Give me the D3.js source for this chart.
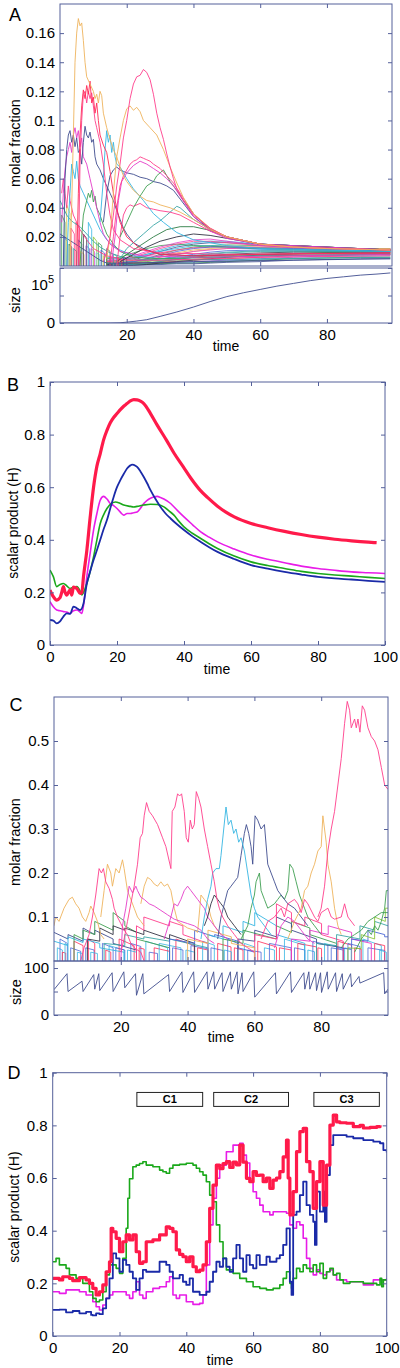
<!DOCTYPE html>
<html><head><meta charset="utf-8">
<script src="https://cdn.jsdelivr.net/npm/d3@7"></script>
<style>body{margin:0;background:#fff}svg{display:block}text{font-family:"Liberation Sans",Arial,Helvetica,sans-serif}</style>
</head><body><svg id="c" width="400" height="1368"></svg>
<script>
// ---------------- DATA ----------------
// Panel A : molar fractions (prominent species), [time, fraction]
const aOrange1 = [[3,0],[3.5,0.04],[4,0.09],[4.5,0.14],[5,0.16],[5.5,0.17],[6,0.165],[6.5,0.167],[7,0.155],[7.5,0.14],[8,0.13],[9,0.125],[10,0.12],[10.5,0.115],[11,0.118],[11.5,0.112],[12,0.12],[12.5,0.117],[13,0.105],[14,0.095],[15,0.087],[16,0.08],[17,0.075],[18,0.068],[19,0.062],[20,0.058],[22,0.052],[24,0.048],[26,0.045],[28,0.044],[30,0.042],[33,0.04],[36,0.037],[40,0.032],[45,0.025],[50,0.02],[60,0.015],[70,0.013],[80,0.012],[99,0.011]];
const aOrange2 = [[14,0.005],[15,0.02],[16,0.05],[17,0.075],[18,0.088],[19,0.1],[20,0.108],[21,0.11],[22,0.107],[23,0.109],[24,0.106],[25,0.1],[27,0.095],[29,0.09],[31,0.08],[33,0.068],[35,0.057],[37,0.047],[40,0.036],[45,0.026],[50,0.02],[60,0.015],[70,0.013],[80,0.012],[99,0.011]];
const aPinkBig = [[13,0.003],[14,0.01],[15,0.02],[16,0.035],[17,0.055],[18,0.07],[19,0.088],[20,0.1],[21,0.115],[22,0.125],[23,0.13],[24,0.131],[25,0.135],[26,0.133],[27,0.128],[28,0.118],[29,0.105],[30,0.095],[31,0.087],[32,0.077],[33,0.068],[34,0.06],[35,0.053],[37,0.045],[40,0.035],[45,0.026],[50,0.02],[60,0.015],[70,0.013],[80,0.012],[99,0.011]];
const aRed = [[5,0],[5.5,0.05],[6,0.09],[6.5,0.11],[7,0.121],[7.5,0.115],[8,0.124],[8.5,0.118],[9,0.127],[9.5,0.112],[10,0.116],[10.5,0.105],[11,0.112],[11.5,0.1],[12,0.09],[13,0.083],[14,0.078],[15,0.065],[16,0.05],[17,0.04],[18,0.03],[20,0.02],[24,0.012],[30,0.008],[40,0.007],[60,0.008],[99,0.009]];
const aPink0 = [[5.5,0],[6,0.07],[6.5,0.1],[7,0.118],[7.5,0.12],[8,0.112],[8.5,0.12],[9,0.115],[9.5,0.119],[10,0.11],[10.5,0.1],[11,0.095],[11.5,0.09],[12,0.085],[13,0.07],[14,0.05],[15,0.035],[16,0.025],[18,0.018],[22,0.012],[30,0.009],[50,0.008],[99,0.009]];
const aNavy1 = [[1,0],[1.5,0.06],[2,0.08],[2.5,0.09],[3,0.093],[3.5,0.085],[4,0.09],[4.5,0.082],[5,0.088],[5.5,0.078],[6,0.08],[6.5,0.07],[7,0.085],[7.5,0.096],[8,0.09],[8.5,0.088],[9,0.092],[9.5,0.085],[10,0.087],[10.5,0.075],[11,0.07],[12,0.066],[13,0.06],[14,0.055],[15,0.05],[16,0.045],[17,0.038],[18,0.032],[19,0.026],[20,0.022],[22,0.016],[25,0.012],[30,0.008],[40,0.007],[60,0.008],[99,0.009]];
const aMagentaEarly = [[0.5,0.03],[1,0.05],[1.5,0.066],[2,0.075],[2.5,0.08],[3,0.085],[3.5,0.078],[4,0.09],[4.5,0.095],[5,0.088],[5.5,0.093],[6,0.082],[6.5,0.088],[7,0.075],[8,0.07],[9,0.06],[10,0.05],[11,0.04],[12,0.03],[13,0.022],[15,0.015],[18,0.01],[25,0.007],[40,0.006],[99,0.008]];
const aPinkEarly = [[0.5,0.05],[1,0.06],[1.5,0.05],[2,0.04],[2.5,0.055],[3,0.045],[4,0.035],[5,0.03],[6,0.025],[8,0.018],[10,0.012],[14,0.007],[20,0.004],[30,0.004],[60,0.006],[99,0.007]];
const aCyan1 = [[12,0.03],[13,0.06],[13.5,0.08],[14,0.093],[14.5,0.085],[15,0.09],[15.5,0.078],[16,0.085],[16.5,0.075],[17,0.07],[18,0.068],[19,0.064],[20,0.06],[22,0.053],[25,0.045],[28,0.036],[31,0.03],[35,0.023],[40,0.018],[50,0.014],[60,0.012],[80,0.011],[99,0.01]];
const aPink2 = [[15,0.003],[16,0.02],[17,0.04],[18,0.055],[19,0.062],[20,0.066],[21,0.07],[22,0.072],[23,0.073],[24,0.075],[25,0.074],[26,0.073],[27,0.072],[28,0.07],[30,0.067],[32,0.062],[34,0.057],[36,0.05],[38,0.043],[40,0.036],[45,0.025],[50,0.02],[60,0.015],[70,0.013],[99,0.011]];
const aMagenta2 = [[15.5,0.003],[16.5,0.02],[17.5,0.045],[18.5,0.058],[20,0.064],[22,0.069],[24,0.072],[26,0.07],[28,0.067],[30,0.064],[32,0.06],[34,0.055],[36,0.048],[38,0.041],[40,0.034],[45,0.024],[50,0.019],[60,0.015],[99,0.011]];
const aNavy2 = [[13,0.03],[14,0.05],[15,0.062],[16,0.066],[17,0.068],[18,0.066],[19,0.065],[20,0.064],[22,0.063],[24,0.061],[26,0.06],[28,0.058],[30,0.057],[32,0.055],[34,0.052],[36,0.046],[38,0.04],[40,0.034],[45,0.025],[50,0.02],[60,0.015],[99,0.011]];
const aGreen1 = [[18,0.02],[20,0.03],[22,0.04],[24,0.048],[26,0.055],[28,0.058],[29,0.062],[30,0.064],[31,0.066],[32,0.062],[33,0.058],[35,0.052],[37,0.045],[40,0.036],[45,0.025],[50,0.02],[60,0.015],[99,0.011]];
const aGreenEarly = [[6,0],[6.5,0.02],[7,0.035],[7.5,0.04],[8,0.045],[8.5,0.05],[9,0.047],[9.5,0.052],[10,0.044],[10.5,0.048],[11,0.04],[12,0.035],[13,0.028],[14,0.022],[16,0.015],[18,0.01],[22,0.006],[30,0.005],[60,0.007],[99,0.008]];
const aPinkMid = [[17,0],[18,0.02],[19,0.035],[20,0.04],[21,0.042],[22,0.041],[24,0.043],[26,0.04],[28,0.039],[30,0.038],[33,0.037],[36,0.035],[40,0.03],[45,0.024],[50,0.02],[60,0.015],[99,0.011]];
const aTeal1 = [[18,0.005],[20,0.012],[22,0.016],[25,0.022],[28,0.028],[30,0.031],[32,0.035],[34,0.039],[35,0.041],[36,0.04],[38,0.036],[40,0.032],[45,0.025],[50,0.02],[60,0.015],[99,0.011]];
const aGreen2 = [[17,0.003],[20,0.008],[24,0.014],[28,0.02],[32,0.025],[36,0.027],[40,0.027],[44,0.025],[50,0.02],[60,0.015],[99,0.011]];
const aNavy3 = [[18,0.003],[22,0.008],[26,0.013],[30,0.017],[35,0.02],[40,0.022],[45,0.021],[50,0.019],[60,0.015],[99,0.011]];
const aCyan2 = [[2,0],[2.5,0.03],[3,0.05],[3.5,0.07],[4,0.065],[4.5,0.06],[5,0.072],[5.5,0.06],[6,0.055],[7,0.05],[8,0.045],[9,0.04],[10,0.035],[12,0.025],[14,0.018],[17,0.012],[22,0.007],[30,0.005],[60,0.007],[99,0.008]];
const aTealEarly = [[0,0.045],[1,0.04],[2,0.035],[3,0.032],[4,0.03],[6,0.027],[8,0.022],[10,0.017],[12,0.013],[15,0.009],[20,0.005],[30,0.004],[99,0.006]];
const aNavyDecay = [[0,0.022],[2,0.019],[4,0.016],[6,0.013],[8,0.01],[10,0.007],[12,0.004],[14,0.002],[20,0.002],[40,0.003],[99,0.005]];
// Panel A : background bundle, values in thousandths at common times
const aBundleTimes = [14,18,22,26,30,35,40,45,50,60,70,80,90,99];
const aBundleMilli = [
 [1,2,4,7,10,13,15,16,16,15,13,12,12,12],
 [2,3,5,8,11,14,16,17,17,15,13,12,11.5,11.5],
 [1,1.5,3,5,8,11,13,14,14.5,14,13,12,11,11],
 [3,4,5,7,9,11,12.5,13,13.5,13,12,11.5,11,11],
 [0.5,1,2,4,6,8,10,11.5,12,12.5,12,11.5,11,10.5],
 [2,2,3,4,6,8,10,11,12,12,11.5,11,10.5,10.5],
 [1,1,2,3,5,6.5,8,9.5,10.5,11,11,10.5,10.5,10],
 [4,3,3,4,5,6,7,8,9,10,10,10,10,10],
 [0.5,1,1,2,3,4.5,6,7,8,9,9.5,9.5,9.5,9.5],
 [2,2,2.5,3,4,5,6,6.5,7,8,8.5,9,9,9],
 [1,1,1.5,2,3,3.5,4.5,5.5,6,7,8,8.5,8.5,8.5],
 [3,2.5,2,2,2.5,3,4,4.5,5,6,7,7.5,8,8],
 [0.5,0.5,1,1.5,2,2.5,3,3.5,4,5,6,7,7.5,7.5],
 [1,1,1,1,1.5,2,2.5,3,3.5,4.5,5.5,6,6.5,7],
 [2,1.5,1.5,1.5,1.5,2,2,2.5,3,4,5,5.5,6,6],
 [0.5,0.5,0.5,1,1,1.5,1.5,2,2.5,3,4,4.5,5,5],
 [6,5,6,8,10,12,14,14,13,11.5,11,10.5,10.5,10.5],
 [5,6,9,12,14,15,14,13.5,13,12,11.5,11,11,11],
 [3,4,6,9,12,15,17,17,16,14,12.5,12,11.5,11.5],
 [2,3,4,5,7,9,11,12,13,13,12.5,12,12,12],
 [4,5,7,10,13,16,18,18.5,17,14,12.5,12,11.5,11],
 [1,2,3,5,7,10,12,13,13,12.5,12,11.5,11,10.5],
 [2,1,1,2,3,5,7,8.5,9.5,10.5,10.5,10,10,10],
 [1,0.5,0.5,1,2,3,4,5,6,7.5,8.5,9,9,9]
];
// Panel A : short-lived species at start [t, height, tEnd, heightEnd]
const aSpikes = [[0.5,0.035,1.5,0.03],[1.2,0.02,2.2,0.017],[2,0.042,3,0.036],[2.7,0.015,3.5,0.013],[3.3,0.026,4.3,0.022],[4,0.012,5,0.01],[4.8,0.03,5.8,0.026],[5.5,0.018,6.5,0.015],[6.2,0.01,7.2,0.008],[7,0.022,8,0.019],[7.8,0.014,8.8,0.012],[8.5,0.03,9.5,0.025],[9.3,0.012,10.3,0.01],[10,0.02,11,0.017],[10.8,0.009,11.8,0.008],[11.5,0.016,12.5,0.014],[12.3,0.011,13.3,0.009],[13,0.007,14,0.006],[14,0.012,15,0.01],[15,0.006,16,0.005],[16,0.008,17,0.007],[17.5,0.005,18.5,0.004],[19,0.006,20,0.005]];
// Panel A : population size
const aSize = [[0,0],[15,0],[18,400],[20,1500],[23,3500],[26,6000],[30,12000],[35,20000],[40,29000],[45,39000],[50,48000],[55,55000],[60,61000],[65,67000],[70,72000],[75,77000],[80,81000],[85,84000],[90,87000],[95,89000],[99,91000]];
const aXTicks = [20,40,60,80];
const aYTicks = [0.02,0.04,0.06,0.08,0.1,0.12,0.14,0.16];
const aSizeTicks = [0,50000,100000];

// Panel B : scalar products
const bRed = [[0,0.209],[0.5,0.195],[1,0.184],[2,0.171],[3,0.18],[3.5,0.2],[4,0.222],[4.5,0.2],[5,0.19],[6,0.21],[6.5,0.19],[7,0.22],[8,0.215],[9,0.196],[9.5,0.2],[10,0.26],[11,0.36],[12,0.487],[13,0.6],[14,0.68],[15,0.728],[16,0.78],[17,0.816],[18,0.845],[19,0.865],[20,0.88],[21,0.895],[22,0.908],[23,0.918],[24,0.928],[25,0.933],[26,0.932],[27,0.927],[28,0.918],[30,0.88],[32,0.836],[34.8,0.778],[37,0.73],[39.8,0.677],[42,0.635],[44.8,0.589],[47,0.561],[50,0.528],[52.5,0.505],[55,0.487],[60,0.462],[65,0.446],[70,0.432],[75,0.42],[80,0.41],[85,0.402],[90,0.396],[95,0.391],[97.5,0.389]];
const bBlue = [[0,0.095],[1,0.093],[2,0.082],[3,0.09],[4,0.108],[5,0.12],[6,0.118],[7,0.146],[8,0.14],[9,0.133],[10,0.158],[11,0.234],[12,0.28],[13,0.323],[14,0.36],[15,0.4],[16,0.44],[17,0.475],[18,0.52],[19,0.563],[20,0.6],[21,0.627],[22,0.65],[23,0.671],[24,0.683],[24.5,0.686],[25,0.685],[26,0.677],[27,0.66],[28,0.639],[29,0.615],[30,0.589],[31.5,0.555],[33,0.525],[34.5,0.5],[36,0.481],[38,0.458],[40,0.437],[42.5,0.413],[45,0.392],[47.5,0.372],[50,0.354],[55,0.327],[60,0.304],[65,0.29],[70,0.278],[75,0.268],[80,0.259],[85,0.253],[90,0.249],[95,0.244],[100,0.24]];
const bGreen = [[0,0.285],[1,0.26],[2,0.222],[3,0.23],[4,0.234],[5,0.225],[6,0.215],[7,0.22],[8,0.222],[9,0.205],[9.5,0.19],[10,0.2],[11,0.234],[12,0.28],[13,0.335],[14,0.4],[15,0.462],[16,0.495],[17,0.519],[18,0.535],[19.5,0.544],[21,0.538],[22,0.532],[24,0.527],[25,0.525],[26,0.527],[28,0.532],[30,0.535],[32,0.534],[34,0.525],[35.5,0.51],[37,0.494],[38.5,0.47],[40,0.449],[42.5,0.425],[45,0.405],[47.5,0.385],[50,0.367],[55,0.338],[60,0.316],[65,0.302],[70,0.291],[75,0.28],[80,0.272],[85,0.266],[90,0.262],[95,0.257],[100,0.253]];
const bMagenta = [[0,0.165],[1,0.145],[2,0.133],[3,0.13],[4,0.127],[5,0.125],[6,0.12],[7,0.13],[8,0.133],[9,0.125],[9.5,0.12],[10,0.15],[11,0.26],[12,0.35],[13,0.437],[14,0.5],[15,0.551],[16,0.565],[17,0.555],[18,0.538],[19,0.53],[20,0.519],[21,0.505],[22,0.494],[23,0.5],[24,0.5],[25,0.503],[26,0.506],[27,0.52],[28,0.538],[29,0.55],[30,0.558],[31,0.563],[32,0.565],[33,0.561],[34,0.555],[36,0.538],[38,0.512],[40,0.487],[42.5,0.458],[45,0.43],[47.5,0.41],[50,0.392],[55,0.365],[60,0.342],[65,0.326],[70,0.313],[75,0.3],[80,0.291],[85,0.284],[90,0.278],[95,0.275],[100,0.272]];
const bXTicks = [0,20,40,60,80,100];
const bYTicks = [0,0.2,0.4,0.6,0.8,1];

// Panel C : molar fractions of major species
const cPink1 = [[8,0],[9,0.03],[10.5,0.06],[11.5,0.1],[12.5,0.15],[13.5,0.21],[14.2,0.2],[14.8,0.21],[15.5,0.18],[16.5,0.165],[17.5,0.14],[18,0.12],[19,0.1],[20,0.085],[21,0.07],[22,0.06],[23,0.04],[24,0.03],[26,0.02],[27,0]];
const cPink2 = [[20,0.02],[21,0.05],[22,0.09],[23,0.13],[24,0.17],[25,0.22],[25.8,0.28],[26.5,0.29],[27,0.33],[27.7,0.36],[28.5,0.34],[29.5,0.33],[31,0.31],[32.5,0.28],[33.5,0.26],[35,0.21],[35.4,0.34],[36.2,0.35],[37,0.38],[37.6,0.375],[38.2,0.38],[39,0.34],[39.6,0.28],[40.2,0.27],[40.8,0.32],[41.4,0.3],[42,0.31],[42.6,0.385],[43.3,0.37],[44,0.35],[45,0.3],[46,0.26],[47,0.22],[48,0.18],[48.8,0.14],[49.5,0.12],[50.5,0.1],[52,0.08],[54,0.06],[56,0.04],[58,0.03],[60,0.02]];
const cMagenta1 = [[20,0],[20.5,0.08],[21.5,0.12],[22.5,0.17],[23.5,0.155],[24.5,0.17],[25,0.16],[26,0.145],[27,0.14],[28.5,0.13],[30,0.125],[32,0.115],[34,0.105],[36,0.095],[38,0.09],[40,0.085],[42,0.08],[44,0.07],[46,0.05],[48,0.04]];
const cMagenta2 = [[33,0.05],[35,0.1],[36,0.13],[37,0.125],[38,0.14],[39,0.16],[40,0.17],[41,0.16],[42,0.15],[43,0.14],[44,0.13],[45,0.12],[46,0.1],[48,0.08],[50,0.06],[52,0.05]];
const cOrange1 = [[0,0.08],[0.5,0.1],[1.5,0.09],[3,0.12],[4.5,0.14],[5.5,0.145],[6.5,0.13],[7.5,0.12],[8.5,0.1],[9.5,0.09],[10.5,0.11],[11,0.125],[12,0.11],[13,0.09],[14,0.06],[15,0.05]];
const cOrange2 = [[14,0.1],[15,0.16],[16,0.22],[17,0.2],[17.5,0.17],[18.5,0.21],[19.5,0.2],[20.5,0.23],[21,0.21],[22,0.16],[23,0.14],[24,0.12],[25,0.1],[26,0.09],[27,0.08]];
const cOrange3 = [[26,0.13],[27,0.17],[28,0.19],[29,0.185],[30,0.175],[31,0.17],[32,0.18],[33,0.17],[34,0.175],[35,0.16],[36,0.12],[37,0.09],[38,0.085],[40,0.075],[42,0.07],[43,0.065],[44,0.15],[45,0.14],[46,0.13],[47,0.1],[48,0.08],[50,0.06]];
const cCyan1 = [[44,0.05],[45,0.1],[46,0.14],[47,0.17],[47.5,0.2],[48.5,0.21],[49.5,0.21],[50,0.24],[51.5,0.35],[52.2,0.31],[53,0.32],[53.8,0.29],[54.5,0.3],[55.3,0.27],[56,0.28],[57,0.25],[58,0.2],[59,0.15],[60,0.12],[61,0.1],[63,0.08],[65,0.06]];
const cNavy1 = [[49,0.05],[50,0.1],[51,0.13],[52,0.16],[53,0.17],[54,0.18],[55,0.19],[56,0.24],[57,0.29],[57.6,0.31],[58.3,0.29],[59,0.26],[59.5,0.22],[60.2,0.33],[61,0.32],[62,0.3],[63,0.31],[64,0.22],[65,0.2],[66,0.18],[67,0.16],[68,0.15],[69,0.14],[70,0.13],[72,0.12],[74,0.1],[76,0.08]];
const cNavy2 = [[45,0.08],[46,0.1],[47,0.13],[48,0.15],[49,0.14],[50,0.13],[51,0.12],[52,0.1],[54,0.08],[56,0.06]];
const cGreen1 = [[56,0.05],[58,0.08],[59,0.12],[60,0.15],[60.5,0.18],[61.5,0.2],[62,0.16],[63,0.14],[64,0.12],[66,0.13],[67,0.14],[68,0.15],[69,0.14],[70,0.16],[70.6,0.22],[71.5,0.21],[72.5,0.18],[73.5,0.15],[75,0.12],[76,0.1],[78,0.08],[80,0.06]];
const cOrange4 = [[70,0.05],[72,0.09],[74,0.12],[75,0.16],[76,0.17],[77,0.2],[78,0.22],[79,0.25],[80,0.26],[80.5,0.33],[81.5,0.27],[82,0.22],[83,0.18],[84,0.12],[85,0.08],[86,0.06]];
const cPink3 = [[79,0.1],[80,0.12],[81,0.17],[82,0.25],[83,0.3],[84,0.34],[85,0.4],[86,0.46],[87,0.54],[87.8,0.59],[88.5,0.57],[89,0.53],[90,0.55],[90.5,0.53],[91,0.55],[91.6,0.52],[92.3,0.58],[93,0.57],[94,0.53],[95,0.51],[96,0.5],[97,0.48],[98,0.44],[99,0.4],[100,0.39]];
const cPink4 = [[62,0.05],[64,0.09],[66,0.1],[68,0.12],[69,0.1],[70,0.13],[72,0.14],[73,0.13],[74,0.11],[75,0.14],[76,0.13],[78,0.1],[79,0.09],[80,0.11],[82,0.12],[83,0.1],[84,0.095],[86,0.1],[87,0.13],[88,0.1],[90,0.08]];
const cMagenta3 = [[66,0.03],[68,0.08],[70,0.1],[72,0.09],[74,0.07],[76,0.05],[78,0.04]];
const cGreen2 = [[90,0.02],[92,0.05],[94,0.07],[95,0.06],[96,0.08],[97,0.07],[98,0.09],[99,0.12],[99.5,0.16],[100,0.16]];
const cGreen3 = [[86,0.03],[88,0.05],[90,0.06],[92,0.07],[94,0.09],[96,0.1],[98,0.11],[100,0.11]];
// Panel C : minor species (saw-tooth)
const cSaw1 = [[0,0.065],[4.2,0.05],[4.2,0.06],[8.7,0.045],[8.7,0.075],[12.2,0.06],[12.2,0.07],[17.7,0.05],[17.7,0.04],[24.7,0.025],[24.7,0]];
const cSaw2 = [[0,0.045],[4.2,0.035],[4.2,0.055],[8.7,0.042],[8.7,0.05],[13.7,0.04],[13.7,0.03],[21,0.02],[21,0]];
const cSaw3 = [[6,0],[6,0.06],[8.7,0.05],[8.7,0.07],[12.2,0.06],[12.2,0.09],[17.7,0.07],[17.7,0.11],[21.2,0.09],[21.2,0.08],[24.7,0.065],[24.7,0.05],[34.6,0.03],[34.6,0]];
const cSaw4 = [[10,0],[10,0.05],[13.7,0.045],[13.7,0.075],[17.7,0.06],[17.7,0.08],[21.2,0.07],[21.2,0.075],[26.9,0.06],[26.9,0.07],[34.6,0.05],[34.6,0.06],[42.1,0.04],[42.1,0]];
const cSaw5 = [[15,0],[15,0.04],[21.2,0.035],[21.2,0.06],[26.9,0.05],[26.9,0.055],[34.6,0.045],[34.6,0.05],[46.1,0.03],[46.1,0]];
const cSaw6 = [[24.7,0],[24.7,0.08],[26.9,0.07],[26.9,0.1],[34.6,0.08],[34.6,0.09],[38.6,0.08],[38.6,0.06],[46.1,0.04],[46.1,0]];
const cSaw7 = [[34.6,0],[34.6,0.05],[42.1,0.04],[42.1,0.07],[48.1,0.055],[48.1,0.06],[55.1,0.045],[55.1,0.03],[60.1,0.02],[60.1,0]];
const cSaw8 = [[46.1,0],[46.1,0.06],[50.6,0.05],[50.6,0.08],[56.6,0.065],[56.6,0.09],[60.1,0.08],[60.1,0.11],[66.6,0.08],[66.6,0.06],[75.1,0.04],[75.1,0]];
const cSaw9 = [[50.6,0],[50.6,0.05],[56.6,0.04],[56.6,0.07],[66.6,0.05],[66.6,0.08],[71.1,0.065],[71.1,0.09],[76.6,0.075],[76.6,0.06],[84.6,0.04],[84.6,0]];
const cSaw10 = [[55.1,0],[55.1,0.05],[60.1,0.045],[60.1,0.07],[66.6,0.055],[66.6,0.1],[71.1,0.085],[71.1,0.07],[78.6,0.05],[78.6,0.04],[86.6,0.03],[86.6,0]];
const cSaw11 = [[60.1,0],[60.1,0.06],[66.6,0.05],[66.6,0.13],[71.1,0.11],[71.1,0.09],[75.1,0.08],[75.1,0.1],[80.1,0.085],[80.1,0.06],[86.6,0.045],[86.6,0]];
const cSaw12 = [[71.1,0],[71.1,0.05],[76.6,0.045],[76.6,0.07],[82.1,0.06],[82.1,0.08],[89.1,0.065],[89.1,0.05],[95,0.04],[95,0]];
const cSaw13 = [[78.6,0],[78.6,0.04],[84.6,0.035],[84.6,0.06],[91.6,0.05],[91.6,0.08],[96,0.07],[96,0.09],[100,0.08]];
const cSaw14 = [[84.6,0],[84.6,0.03],[89.1,0.027],[89.1,0.05],[94,0.045],[94,0.07],[99,0.06],[99,0.055],[100,0.055]];
const cSaw15 = [[40,0],[40,0.05],[46.1,0.04],[46.1,0.07],[53.1,0.055],[53.1,0.04],[60,0.03],[60,0]];
const cSaw16 = [[88,0],[88,0.03],[92,0.028],[92,0.06],[96,0.05],[96,0.1],[99.2,0.09],[99.2,0.12],[100,0.12]];
// Panel C : short-lived species [t, height, tEnd, heightEnd]
const cSpikes = [[1,0.03,2.5,0.025],[1.8,0.05,4,0.04],[2.5,0.02,3.5,0.018],[3.3,0.04,4.2,0.035],[5,0.03,8,0.022],[6,0.045,8.7,0.035],[7,0.02,8.5,0.017],[9.5,0.03,12,0.025],[10.3,0.05,12.2,0.04],[11,0.02,13,0.017],[14.5,0.04,17.7,0.03],[15.5,0.025,17,0.02],[16.5,0.035,21,0.025],[18.5,0.03,21.2,0.025],[19.5,0.05,24,0.035],[22,0.025,24.7,0.02],[23,0.04,26,0.033],[25.5,0.03,27,0.027],[27.5,0.045,34,0.03],[28.5,0.02,31,0.017],[30,0.03,34.6,0.022],[31.5,0.04,38,0.03],[35.5,0.03,38.6,0.025],[36.5,0.05,42,0.035],[39.5,0.025,42.1,0.02],[41,0.035,46,0.028],[43,0.03,46.1,0.025],[44.5,0.045,48,0.036],[47,0.03,50.6,0.024],[49,0.04,53,0.032],[51,0.025,53.1,0.021],[52,0.05,55,0.04],[54,0.03,56.6,0.025],[57,0.04,60.1,0.032],[58,0.025,62,0.02],[61,0.045,66.6,0.032],[63,0.03,66,0.025],[64.5,0.04,71,0.03],[67.5,0.03,71.1,0.025],[69,0.05,75,0.036],[72,0.03,75.1,0.025],[73,0.04,78.6,0.032],[76,0.025,78,0.021],[77.5,0.045,82,0.036],[79,0.03,80.1,0.028],[81,0.04,84.6,0.033],[83,0.03,86.6,0.025],[85,0.045,89.1,0.036],[87,0.03,89,0.026],[88,0.04,91.6,0.033],[90,0.03,92,0.027],[92.5,0.05,98,0.035],[94,0.03,99,0.024],[96,0.04,99,0.035],[97.5,0.025,99.5,0.02]];
// Panel C : population size
const cSize = [[0,54],[3.9,88],[4.2,50],[8.4,72],[8.7,50],[11.9,86],[12.2,55],[13.4,88],[13.7,52],[17.4,90],[17.7,50],[20.9,92],[21.2,58],[24.4,88],[24.7,42],[26.6,88],[26.9,45],[34.3,86],[34.6,50],[38.3,92],[38.6,48],[41.8,92],[42.1,48],[45.8,92],[46.1,55],[47.8,92],[48.1,55],[50.3,90],[50.6,50],[52.8,92],[53.1,55],[54.8,92],[55.1,45],[56.3,90],[56.6,50],[59.8,92],[60.1,38],[66.3,90],[66.6,45],[70.8,92],[71.1,48],[74.8,90],[75.1,55],[76.3,92],[76.6,55],[78.3,90],[78.6,52],[79.8,90],[80.1,48],[81.8,92],[82.1,55],[84.3,90],[84.6,50],[86.3,88],[86.6,55],[88.8,88],[89.1,60],[91.3,82],[91.6,68],[98.7,90],[99,45],[100,55]];
const cXTicks = [20,40,60,80];
const cYTicks = [0.1,0.2,0.3,0.4,0.5];
const cSizeTicks = [0,50,100];

// Panel D : scalar products
const dRed = [[0,0.219],[2,0.213],[3,0.225],[5,0.219],[6,0.21],[8,0.222],[10,0.213],[11,0.2],[12,0.181],[13,0.156],[14,0.168],[15,0.194],[16,0.244],[17,0.282],[17.5,0.409],[18,0.396],[19,0.371],[20,0.32],[21,0.358],[22,0.384],[23,0.365],[24,0.384],[25,0.32],[26,0.276],[27,0.282],[28,0.358],[30,0.365],[32,0.384],[34,0.415],[35,0.409],[36,0.396],[37,0.327],[38,0.31],[39,0.301],[40,0.282],[41,0.301],[42,0.263],[43,0.244],[44,0.25],[45,0.27],[46,0.358],[47,0.485],[48,0.573],[49,0.649],[50,0.636],[51,0.655],[52,0.662],[53,0.64],[54,0.66],[55,0.65],[56,0.725],[57,0.66],[58,0.599],[59,0.586],[60,0.624],[61,0.61],[62,0.611],[63,0.586],[64,0.6],[65,0.561],[66,0.592],[67,0.6],[68,0.624],[69,0.68],[70,0.744],[70.5,0.6],[71,0.46],[72,0.548],[73,0.7],[74,0.776],[75,0.789],[76,0.662],[77,0.624],[78,0.485],[79,0.586],[80,0.662],[81,0.497],[82,0.649],[83,0.801],[84,0.839],[85,0.813],[86,0.81],[88,0.808],[90,0.795],[92,0.8],[93,0.79],[95,0.792],[97,0.795],[98,0.8]];
const dBlue = [[0,0.099],[2,0.1],[4,0.09],[6,0.095],[8,0.086],[10,0.092],[11.5,0.08],[12,0.078],[13,0.086],[14,0.083],[15,0.105],[16,0.143],[17,0.219],[18,0.314],[19,0.295],[20,0.244],[21,0.289],[22,0.27],[23,0.244],[24,0.219],[25,0.175],[26,0.219],[27,0.251],[28,0.244],[30,0.244],[32,0.282],[34,0.27],[35,0.244],[36,0.219],[38,0.232],[39,0.206],[40,0.194],[41,0.219],[42,0.168],[44,0.156],[46,0.168],[47,0.206],[48,0.244],[49,0.282],[50,0.263],[51,0.295],[52,0.263],[53,0.244],[54,0.295],[55,0.346],[56,0.295],[57,0.244],[58,0.307],[59,0.27],[60,0.257],[61,0.307],[62,0.27],[64,0.301],[65,0.282],[67,0.295],[68,0.307],[69,0.346],[70,0.409],[71,0.206],[71.5,0.156],[72,0.46],[73,0.472],[74,0.535],[75,0.586],[76,0.497],[77,0.46],[78,0.434],[78.5,0.346],[79,0.548],[80,0.472],[81,0.548],[81.5,0.434],[82,0.611],[83,0.725],[84,0.763],[86,0.763],[88,0.757],[90,0.751],[93,0.744],[96,0.738],[98,0.732],[99,0.706],[100,0.697]];
const dGreen = [[0,0.282],[1,0.295],[2,0.27],[4,0.257],[5,0.232],[7,0.219],[9,0.2],[11,0.168],[12,0.143],[13,0.13],[14,0.137],[15,0.168],[16,0.232],[17,0.27],[18,0.27],[19,0.257],[20,0.238],[21,0.295],[22,0.409],[22.5,0.523],[23,0.597],[24,0.643],[25,0.649],[26,0.655],[27,0.662],[28,0.649],[30,0.643],[32,0.63],[33,0.624],[34,0.618],[35,0.637],[36,0.649],[38,0.652],[40,0.656],[42,0.649],[43,0.637],[44,0.624],[45,0.611],[46,0.586],[47,0.535],[48,0.51],[49,0.422],[50,0.358],[51,0.295],[52,0.251],[54,0.238],[56,0.219],[58,0.206],[60,0.187],[62,0.181],[64,0.175],[66,0.181],[68,0.194],[69,0.219],[70,0.244],[71,0.2],[71.5,0.181],[72,0.219],[73,0.257],[74,0.244],[75,0.27],[76,0.257],[77,0.244],[78,0.27],[79,0.244],[80,0.276],[81,0.219],[82,0.244],[83,0.257],[84,0.232],[85,0.238],[86,0.213],[87,0.2],[89,0.206],[91,0.206],[93,0.2],[95,0.2],[97,0.194],[98,0.219],[98.5,0.187],[99,0.213],[100,0.21]];
const dMagenta = [[0,0.168],[2,0.162],[4,0.175],[6,0.175],[8,0.168],[10,0.156],[12,0.13],[13,0.111],[14,0.099],[15,0.118],[16,0.143],[17,0.156],[18,0.168],[20,0.168],[22,0.156],[23,0.143],[24,0.168],[25,0.206],[26,0.156],[27,0.143],[28,0.168],[30,0.181],[32,0.187],[34,0.206],[35,0.225],[36,0.156],[37,0.143],[38,0.156],[40,0.13],[42,0.12],[44,0.124],[45,0.156],[46,0.27],[47,0.422],[48,0.523],[49,0.599],[50,0.649],[52,0.7],[54,0.725],[56,0.732],[57,0.687],[58,0.657],[59,0.586],[60,0.548],[61,0.523],[62,0.497],[63,0.472],[65,0.46],[66,0.472],[68,0.472],[70,0.466],[71,0.422],[72,0.409],[73,0.434],[74,0.422],[75,0.371],[76,0.295],[77,0.257],[78,0.232],[79,0.251],[80,0.238],[81,0.232],[82,0.244],[83,0.251],[84,0.232],[85,0.213],[88,0.206],[90,0.206],[93,0.194],[96,0.213],[100,0.219]];
const dXTicks = [0,20,40,60,80,100];
const dYTicks = [0,0.2,0.4,0.6,0.8,1];
const dBoxLabels = ["C1","C2","C3"];
const dBoxStart = [25.2,48.2,78.2];
const dBoxEnd = [44.9,70.6,97.8];
const dBoxTop = 0.925, dBoxBottom = 0.872;

// ---------------- STYLE ----------------
const FRAME = '#55609a';
const PAL = ['#3f4d8f','#35b6e2','#3f9f52','#ff3d8b','#eeb35c','#e43cc8','#4a66d6','#3aa6a6','#333344','#8cc63f','#d8c640','#ff2a55','#8a4fc2','#7fc8f0','#2e7d45'];
const FONT = '"Liberation Sans",Arial,Helvetica,sans-serif';
const svg = d3.select('#c');

function axes(g, x, y, o){
  const [xl,xr] = x.range(), [yb,yt] = y.range();
  const fmt = d3.format('~g');
  const style = sel => { sel.select('.domain').remove(); sel.selectAll('line').attr('stroke',FRAME); sel.selectAll('text').attr('font-size',15).attr('font-family',FONT).attr('fill','#000'); };
  g.append('g').attr('transform',`translate(0,${yb})`).call(d3.axisBottom(x).tickValues(o.xt).tickSize(-4).tickPadding(6).tickFormat(o.xlab ? fmt : '')).call(style);
  g.append('g').attr('transform',`translate(0,${yt})`).call(d3.axisTop(x).tickValues(o.xt).tickSize(-4).tickFormat('')).call(style);
  g.append('g').attr('transform',`translate(${xl},0)`).call(d3.axisLeft(y).tickValues(o.yt).tickSize(-4).tickPadding(5).tickFormat(o.yfmt || fmt)).call(style);
  g.append('g').attr('transform',`translate(${xr},0)`).call(d3.axisRight(y).tickValues(o.yt).tickSize(-4).tickFormat('')).call(style);
  g.append('rect').attr('x',xl).attr('y',yt).attr('width',xr-xl).attr('height',yb-yt).attr('fill','none').attr('stroke',FRAME).attr('stroke-width',1);
}
let clipN = 0;
function clip(g, x, y){
  const id = 'cl'+(clipN++);
  const [xl,xr] = x.range(), [yb,yt] = y.range();
  svg.append('clipPath').attr('id',id).append('rect').attr('x',xl).attr('y',yt-1).attr('width',xr-xl).attr('height',yb-yt+1);
  return g.append('g').attr('clip-path',`url(#${id})`);
}
function txt(x,y,s,o={}){
  const t = svg.append('text').attr('x',x).attr('y',y).text(s).attr('font-size',o.size||14).attr('font-family',o.family||FONT).attr('text-anchor',o.anchor||'middle').attr('fill','#000');
  if(o.rot) t.attr('transform',`rotate(-90,${x},${y})`);
  return t;
}
function spikeLines(spikes){ return spikes.map(s => [[s[0],0],[s[0],s[1]],[s[2],s[3]],[s[2],0]]); }

// ---------------- PANEL A ----------------
{
  const g = svg.append('g');
  const x = d3.scaleLinear().domain([0,99.5]).range([60,392]);
  const y = d3.scaleLinear().domain([0,0.18]).range([266,4]);
  const ys = d3.scaleLinear().domain([0,100000]).range([323,268]);
  const line = d3.line().x(d=>x(d[0])).y(d=>y(d[1]));
  const pg = clip(g, x, y);
  const bundle = aBundleMilli.map(r => r.map((v,i)=>[aBundleTimes[i], v/1000]));
  bundle.forEach((s,i)=> pg.append('path').attr('d',line(s)).attr('fill','none').attr('stroke',PAL[i%PAL.length]).attr('stroke-width',0.8));
  spikeLines(aSpikes).forEach((s,i)=> pg.append('path').attr('d',line(s)).attr('fill','none').attr('stroke',PAL[(i*4+2)%PAL.length]).attr('stroke-width',0.8));
  const main = [[aNavyDecay,'#3f4d8f'],[aTealEarly,'#3aa6a6'],[aPinkEarly,'#ff3d8b'],[aCyan2,'#35b6e2'],[aGreenEarly,'#3f9f52'],[aMagentaEarly,'#e43cc8'],[aNavy1,'#3f4d8f'],[aNavy3,'#333344'],[aGreen2,'#2e7d45'],[aTeal1,'#3aa6a6'],[aPinkMid,'#ff3d8b'],[aGreen1,'#3f9f52'],[aNavy2,'#3f4d8f'],[aCyan1,'#35b6e2'],[aMagenta2,'#e43cc8'],[aPink2,'#ff3d8b'],[aPink0,'#ff3d8b'],[aRed,'#ff2a55'],[aOrange2,'#eeb35c'],[aPinkBig,'#ff3d8b'],[aOrange1,'#eeb35c']];
  main.forEach(([s,c])=> pg.append('path').attr('d',line(s)).attr('fill','none').attr('stroke',c).attr('stroke-width',0.9).attr('stroke-linejoin','round'));
  axes(g, x, y, {xt:aXTicks, yt:aYTicks, xlab:false});
  // size subplot
  const sg = clip(g, x, ys);
  const sline = d3.line().x(d=>x(d[0])).y(d=>ys(d[1]));
  sg.append('path').attr('d',sline(aSize)).attr('fill','none').attr('stroke','#3f4d8f').attr('stroke-width',0.9);
  axes(g, x, ys, {xt:aXTicks, yt:aSizeTicks, xlab:true, yfmt: d => d===0 ? '0' : ''});
  const t = txt(54,290,'10',{size:15,anchor:'end'});
  t.append('tspan').attr('dy',-7).attr('font-size',11).text('5');
  txt(20,143,'molar fraction',{rot:true,size:14.5});
  txt(20,300,'size',{rot:true,size:14.5});
  txt(226,351,'time',{size:14});
  txt(15,21,'A',{size:18,family:'"Liberation Serif","Times New Roman",serif'});
}

// ---------------- PANEL B ----------------
{
  const g = svg.append('g');
  const x = d3.scaleLinear().domain([0,100]).range([50,385]);
  const y = d3.scaleLinear().domain([0,1]).range([645,382]);
  const line = d3.line().x(d=>x(d[0])).y(d=>y(d[1])).curve(d3.curveMonotoneX);
  const pg = clip(g, x, y);
  [[bMagenta,'#e81ce8',1.6],[bGreen,'#1aa81a',1.6],[bBlue,'#1a2aa8',1.8],[bRed,'#ff1a4a',3.2]].forEach(([s,c,w])=>
    pg.append('path').attr('d',line(s)).attr('fill','none').attr('stroke',c).attr('stroke-width',w).attr('stroke-linejoin','round'));
  axes(g, x, y, {xt:bXTicks, yt:bYTicks, xlab:true});
  txt(18,523,'scalar product (H)',{rot:true,size:14});
  txt(217,674,'time',{size:14});
  txt(13,391,'B',{size:18,family:'"Liberation Serif","Times New Roman",serif'});
}

// ---------------- PANEL C ----------------
{
  const g = svg.append('g');
  const x = d3.scaleLinear().domain([0,100]).range([54,388]);
  const y = d3.scaleLinear().domain([0,0.6]).range([961,697]);
  const ys = d3.scaleLinear().domain([0,115]).range([1015,961]);
  const line = d3.line().x(d=>x(d[0])).y(d=>y(d[1]));
  const pg = clip(g, x, y);
  spikeLines(cSpikes).forEach((s,i)=> pg.append('path').attr('d',line(s)).attr('fill','none').attr('stroke',PAL[(i*5+1)%PAL.length]).attr('stroke-width',0.8));
  const saws = [cSaw1,cSaw2,cSaw3,cSaw4,cSaw5,cSaw6,cSaw7,cSaw8,cSaw9,cSaw10,cSaw11,cSaw12,cSaw13,cSaw14,cSaw15,cSaw16];
  const sawCol = ['#3f4d8f','#35b6e2','#3f9f52','#333344','#3aa6a6','#ff3d8b','#4a66d6','#35b6e2','#3f9f52','#3f4d8f','#ff3d8b','#e43cc8','#3aa6a6','#4a66d6','#eeb35c','#8cc63f'];
  saws.forEach((s,i)=> pg.append('path').attr('d',line(s)).attr('fill','none').attr('stroke',sawCol[i]).attr('stroke-width',0.9));
  const main = [[cOrange1,'#eeb35c'],[cOrange2,'#eeb35c'],[cOrange3,'#eeb35c'],[cMagenta1,'#e43cc8'],[cMagenta2,'#e43cc8'],[cMagenta3,'#e43cc8'],[cNavy2,'#333344'],[cPink1,'#ff3d8b'],[cGreen1,'#3f9f52'],[cNavy1,'#3f4d8f'],[cCyan1,'#35b6e2'],[cOrange4,'#eeb35c'],[cPink4,'#ff3d8b'],[cGreen3,'#3f9f52'],[cGreen2,'#3f9f52'],[cPink2,'#ff3d8b'],[cPink3,'#ff3d8b']];
  main.forEach(([s,c])=> pg.append('path').attr('d',line(s)).attr('fill','none').attr('stroke',c).attr('stroke-width',0.9).attr('stroke-linejoin','round'));
  axes(g, x, y, {xt:cXTicks, yt:cYTicks, xlab:false});
  const sg = clip(g, x, ys);
  const sline = d3.line().x(d=>x(d[0])).y(d=>ys(d[1]));
  sg.append('path').attr('d',sline(cSize)).attr('fill','none').attr('stroke','#3f4d8f').attr('stroke-width',0.9);
  axes(g, x, ys, {xt:cXTicks, yt:cSizeTicks, xlab:true, yfmt: d => d===50 ? '' : String(d)});
  txt(20,842,'molar fraction',{rot:true,size:14.5});
  txt(21,992,'size',{rot:true,size:14.5});
  txt(221,1042,'time',{size:14});
  txt(16,711,'C',{size:18,family:'"Liberation Serif","Times New Roman",serif'});
}

// ---------------- PANEL D ----------------
{
  const g = svg.append('g');
  const x = d3.scaleLinear().domain([0,100]).range([52.7,386.7]);
  const y = d3.scaleLinear().domain([0,1]).range([1336,1072.7]);
  const line = d3.line().x(d=>x(d[0])).y(d=>y(d[1])).curve(d3.curveStepAfter);
  const pg = clip(g, x, y);
  [[dMagenta,'#e81ce8',1.6],[dGreen,'#1aa81a',1.6],[dBlue,'#1a2aa8',1.8],[dRed,'#ff1a4a',3.2]].forEach(([s,c,w])=>
    pg.append('path').attr('d',line(s)).attr('fill','none').attr('stroke',c).attr('stroke-width',w).attr('stroke-linejoin','round'));
  dBoxLabels.forEach((lab,i)=>{
    g.append('rect').attr('x',x(dBoxStart[i])).attr('y',y(dBoxTop)).attr('width',x(dBoxEnd[i])-x(dBoxStart[i])).attr('height',y(dBoxBottom)-y(dBoxTop)).attr('fill','#fdfdfd').attr('stroke','#222').attr('stroke-width',1);
    g.append('text').attr('x',(x(dBoxStart[i])+x(dBoxEnd[i]))/2).attr('y',(y(dBoxTop)+y(dBoxBottom))/2+4).attr('text-anchor','middle').attr('font-size',11).attr('font-weight','bold').attr('font-family',FONT).text(lab);
  });
  axes(g, x, y, {xt:dXTicks, yt:dYTicks, xlab:true});
  txt(19,1207,'scalar product (H)',{rot:true,size:14});
  txt(220,1365,'time',{size:14});
  txt(14,1079,'D',{size:18,family:'"Liberation Serif","Times New Roman",serif'});
}
</script></body></html>
